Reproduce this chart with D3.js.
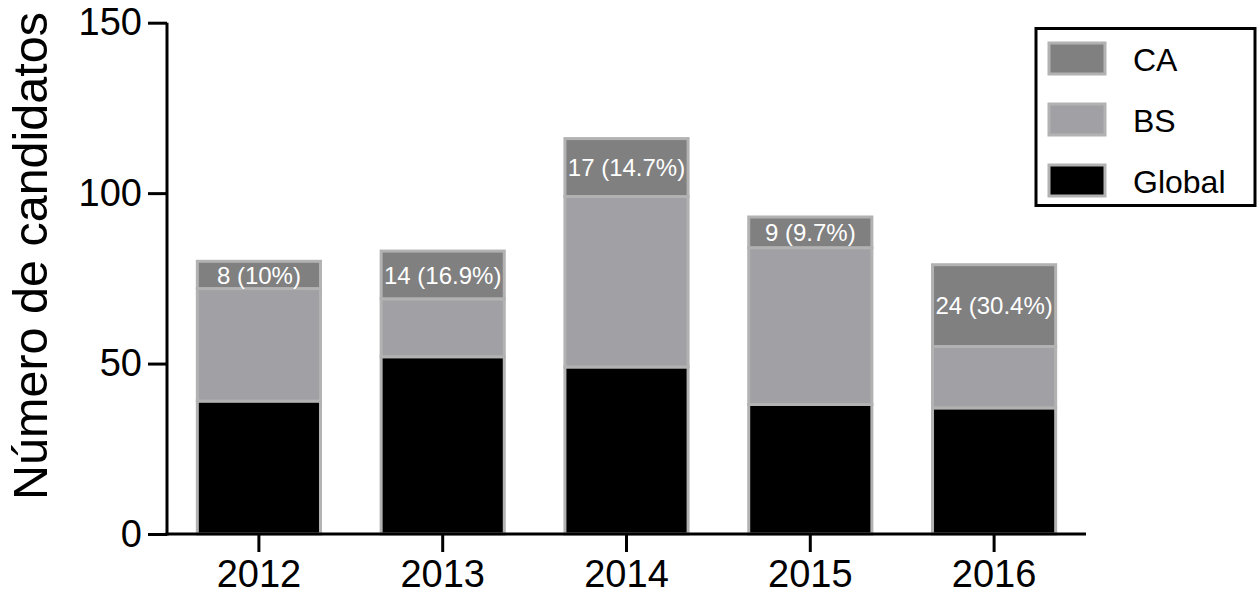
<!DOCTYPE html>
<html>
<head>
<meta charset="utf-8">
<script src="https://cdn.jsdelivr.net/npm/d3@7"></script>
<style>
  body { margin: 0; background: #fff; }
  svg { display: block; font-family: "Liberation Sans", Arial, Helvetica, sans-serif; }
</style>
</head>
<body>
<svg id="chart" width="1258" height="599"></svg>
<script>
const years = ["2012", "2013", "2014", "2015", "2016"];
const globalVals = [39, 52, 49, 38, 37];
const bsVals = [33, 17, 50, 46, 18];
const caVals = [8, 14, 17, 9, 24];
const yTicks = [0, 50, 100, 150];
const seriesKeys = ["Global", "BS", "CA"];
const legendOrder = ["CA", "BS", "Global"];

const colors = { CA: "#808080", BS: "#a1a0a4", Global: "#000000" };

const rows = years.map((y, i) => ({ year: y, Global: globalVals[i], BS: bsVals[i], CA: caVals[i] }));

const svg = d3.select("#chart");
const x0 = 167, x1 = 1086, yBottom = 534, yTop = 22.7;

const x = d3.scaleBand().domain(years).range([x0, x1]).paddingInner(0.33).paddingOuter(0.165);
const y = d3.scaleLinear().domain([0, 150]).range([yBottom, yTop]);

const stacked = d3.stack().keys(seriesKeys)(rows);

const g = svg.append("g");
stacked.forEach(layer => {
  g.selectAll(null).data(layer).enter().append("rect")
    .attr("x", d => x(d.data.year))
    .attr("width", x.bandwidth())
    .attr("y", d => y(d[1]))
    .attr("height", d => y(d[0]) - y(d[1]))
    .attr("fill", colors[layer.key])
    .attr("stroke", "#b2b2b2")
    .attr("stroke-width", 3);
});

// CA labels
const caLayer = stacked[2];
g.selectAll(null).data(caLayer).enter().append("text")
  .attr("x", d => x(d.data.year) + x.bandwidth() / 2)
  .attr("y", d => (y(d[0]) + y(d[1])) / 2)
  .attr("dy", "0.36em")
  .attr("text-anchor", "middle")
  .attr("fill", "#fff")
  .attr("font-size", 24)
  .text(d => {
    const total = d.data.Global + d.data.BS + d.data.CA;
    const p = Math.round(d.data.CA / total * 1000) / 10;
    return d.data.CA + " (" + p + "%)";
  });

// Y axis
const yAxis = svg.append("g")
  .attr("transform", `translate(${x0},0)`)
  .call(d3.axisLeft(y).tickValues(yTicks).tickSize(19).tickPadding(6).tickSizeOuter(0));
yAxis.select(".domain").attr("stroke", "#000").attr("stroke-width", 3).attr("d", `M0,${yTop}V${yBottom + 1.5}`);
yAxis.selectAll(".tick line").attr("stroke", "#000").attr("stroke-width", 3);
yAxis.selectAll(".tick text").attr("font-size", 38).attr("fill", "#000").attr("font-family", "Liberation Sans, Arial, sans-serif");

// X axis
const xAxis = svg.append("g")
  .attr("transform", `translate(0,${yBottom})`)
  .call(d3.axisBottom(x).tickSize(18).tickPadding(8).tickSizeOuter(0));
xAxis.select(".domain").attr("stroke", "#000").attr("stroke-width", 3).attr("d", `M${x0 - 1.5},0H${x1}`);
xAxis.selectAll(".tick line").attr("stroke", "#000").attr("stroke-width", 3);
xAxis.selectAll(".tick text").attr("font-size", 38).attr("fill", "#000").attr("font-family", "Liberation Sans, Arial, sans-serif");

// Y label
svg.append("text")
  .attr("transform", "translate(47,256) rotate(-90)")
  .attr("text-anchor", "middle")
  .attr("font-size", 48.5)
  .attr("fill", "#000")
  .text("Número de candidatos");

// Legend
const leg = svg.append("g");
leg.append("rect").attr("x", 1036).attr("y", 28.5).attr("width", 219).attr("height", 177)
  .attr("fill", "#fff").attr("stroke", "#000").attr("stroke-width", 3);
legendOrder.forEach((k, i) => {
  const yy = 43 + i * 61;
  leg.append("rect").attr("x", 1049).attr("y", yy).attr("width", 56).attr("height", 31)
    .attr("fill", colors[k]).attr("stroke", "#b2b2b2").attr("stroke-width", 3);
  leg.append("text").attr("x", 1133).attr("y", yy + 16).attr("dy", "0.36em")
    .attr("font-size", 32).attr("fill", "#000").text(k);
});
</script>
</body>
</html>
